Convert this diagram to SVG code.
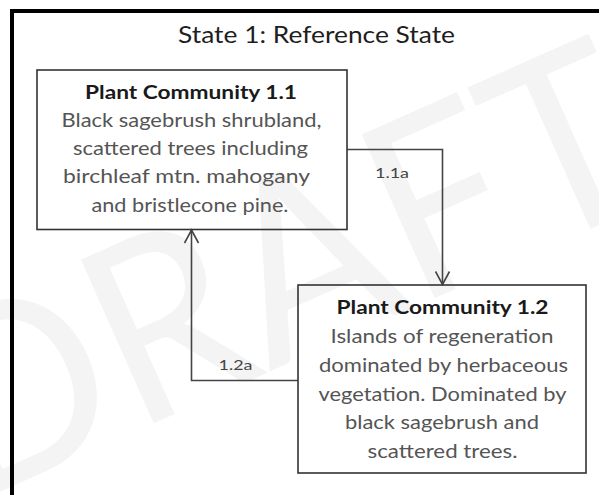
<svg xmlns="http://www.w3.org/2000/svg" width="599" height="495" viewBox="0 0 599 495">
  <style>
    .wm { font-family: Lato, "Liberation Sans", sans-serif; font-weight: normal; fill: #f4f4f4; }
    .title { font-family: Lato, "Liberation Sans", sans-serif; font-size: 24px; fill: #1e1e1e; text-anchor: middle; }
    .head { font-family: Lato, "Liberation Sans", sans-serif; font-size: 19px; font-weight: bold; fill: #1a1a1a; text-anchor: middle; }
    .body { font-family: Lato, "Liberation Sans", sans-serif; font-size: 19px; fill: #555555; text-anchor: middle; }
    .lbl { font-family: Lato, "Liberation Sans", sans-serif; font-size: 14px; fill: #444444; text-anchor: middle; }
    .box { fill: none; stroke: #333333; stroke-width: 1.6; }
    .conn { fill: none; stroke: #444444; stroke-width: 1.6; }
  </style>
  <defs>
    <marker id="arrow" markerUnits="userSpaceOnUse" markerWidth="16" markerHeight="16" viewBox="0 0 16 16" refX="14" refY="8" orient="auto">
      <path d="M1,1 L14,8 L1,15" fill="none" stroke="#444444" stroke-width="1.6"/>
    </marker>
  </defs>
  <rect width="599" height="495" fill="#ffffff"/>
  <text class="wm" transform="translate(-30,505) rotate(-24)" font-size="250" textLength="760" lengthAdjust="spacingAndGlyphs">DRAFT</text>
  <path d="M12,495 V11 H599" fill="none" stroke="#000000" stroke-width="4"/>
  <text class="title" x="316.5" y="43" textLength="277" lengthAdjust="spacingAndGlyphs">State 1: Reference State</text>
  <g id="connectors">
    <path class="conn" d="M347,149.5 H442.5 V284.5" marker-end="url(#arrow)"/>
    <text class="lbl" x="392" y="178" textLength="34" lengthAdjust="spacingAndGlyphs">1.1a</text>
    <path class="conn" d="M298,380.5 H191.5 V230" marker-end="url(#arrow)"/>
    <text class="lbl" x="235.5" y="370" textLength="34" lengthAdjust="spacingAndGlyphs">1.2a</text>
  </g>
  <g id="pc11">
    <rect class="box" x="37" y="70" width="310" height="159.5"/>
    <text class="head" x="191" y="99" textLength="212" lengthAdjust="spacingAndGlyphs">Plant Community 1.1</text>
    <text class="body" x="191.5" y="127" textLength="260" lengthAdjust="spacingAndGlyphs">Black sagebrush shrubland,</text>
    <text class="body" x="190.5" y="155" textLength="235" lengthAdjust="spacingAndGlyphs">scattered trees including</text>
    <text class="body" x="186.5" y="183" textLength="247" lengthAdjust="spacingAndGlyphs">birchleaf mtn. mahogany</text>
    <text class="body" x="190" y="211.5" textLength="197" lengthAdjust="spacingAndGlyphs">and bristlecone pine.</text>
  </g>
  <g id="pc12">
    <rect class="box" x="298" y="285" width="288" height="188"/>
    <text class="head" x="442.5" y="314" textLength="212" lengthAdjust="spacingAndGlyphs">Plant Community 1.2</text>
    <text class="body" x="442" y="342.5" textLength="223" lengthAdjust="spacingAndGlyphs">Islands of regeneration</text>
    <text class="body" x="443.5" y="371.5" textLength="249" lengthAdjust="spacingAndGlyphs">dominated by herbaceous</text>
    <text class="body" x="442.5" y="400.5" textLength="248" lengthAdjust="spacingAndGlyphs">vegetation. Dominated by</text>
    <text class="body" x="442" y="429" textLength="194" lengthAdjust="spacingAndGlyphs">black sagebrush and</text>
    <text class="body" x="442.5" y="457.5" textLength="150" lengthAdjust="spacingAndGlyphs">scattered trees.</text>
  </g>
</svg>
